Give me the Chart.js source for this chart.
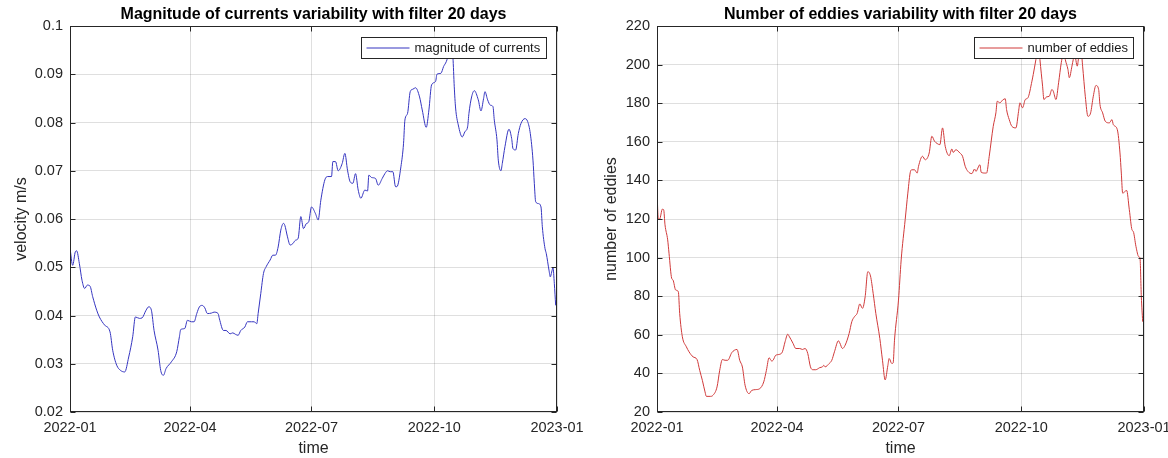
<!DOCTYPE html>
<html>
<head>
<meta charset="utf-8">
<script src="https://cdn.jsdelivr.net/npm/chart.js@4.4.1/dist/chart.umd.min.js"></script>
<style>
  html, body { margin: 0; padding: 0; background: #fff; }
  .row { display: flex; width: 1168px; height: 458px; }
  .cell { position: relative; width: 584px; height: 458px; }
</style>
</head>
<body>
<div class="row">
  <div class="cell"><canvas id="currentsChart"></canvas></div>
  <div class="cell"><canvas id="eddiesChart"></canvas></div>
</div>
<script>
// x axis: day of year counted from 2022-01-01
const tickDays = [0, 90, 181, 273, 365];
const tickLabels = ['2022-01', '2022-04', '2022-07', '2022-10', '2023-01'];

const currentDays = [0, 2, 4, 5, 7, 9, 11, 13, 15, 17, 20, 22, 26, 30, 32, 35, 38, 41, 44, 47,
  49, 52, 54, 57, 59, 61, 63, 66, 68, 70, 72, 76, 80, 82, 83, 86, 88, 91, 93, 95,
  97, 99, 101, 103, 106, 108, 111, 112, 115, 117, 120, 122, 124, 126, 128, 131, 133, 136, 138, 140,
  141, 143, 145, 147, 150, 152, 154, 156, 158, 160, 161, 163, 165, 167, 169, 171, 173, 175, 177, 179,
  181, 184, 186, 188, 191, 193, 196, 197, 199, 201, 204, 206, 208, 210, 212, 214, 216, 218, 221, 223,
  224, 226, 229, 231, 234, 236, 238, 240, 242, 244, 245, 248, 250, 251, 253, 255, 257, 259, 262, 264,
  267, 269, 271, 274, 275, 278, 280, 282, 284, 286, 287, 288, 289, 291, 294, 296, 298, 299, 301, 303,
  306, 308, 310, 311, 313, 315, 317, 318, 320, 321, 323, 324, 326, 329, 331, 332, 334, 336, 338, 341,
  343, 345, 347, 348, 349, 351, 353, 354, 356, 357, 359, 360, 361, 362, 363, 364];
const currentValues = [0.054, 0.0504, 0.0532, 0.0534, 0.0508, 0.0473, 0.0456, 0.0463, 0.0461, 0.0439, 0.0411, 0.0397, 0.038, 0.0366, 0.0328, 0.0297, 0.0286, 0.0283, 0.0314, 0.0356,
  0.0397, 0.0394, 0.0395, 0.0411, 0.0418, 0.0411, 0.0369, 0.0328, 0.0286, 0.0276, 0.029, 0.0304, 0.0325, 0.0356, 0.0371, 0.0373, 0.039, 0.0387, 0.0387, 0.0404,
  0.0418, 0.0421, 0.0416, 0.0404, 0.0405, 0.0407, 0.0404, 0.0393, 0.0369, 0.0369, 0.0362, 0.0364, 0.0361, 0.0359, 0.0369, 0.0376, 0.0387, 0.0387, 0.0387, 0.0383,
  0.0404, 0.0446, 0.0487, 0.0501, 0.0515, 0.0525, 0.0525, 0.0542, 0.0577, 0.0591, 0.0587, 0.0563, 0.0546, 0.0549, 0.0556, 0.056, 0.0605, 0.058, 0.059, 0.0595,
  0.0625, 0.0611, 0.0598, 0.0639, 0.0681, 0.0688, 0.0688, 0.0719, 0.0719, 0.07, 0.0715, 0.0736, 0.0701, 0.0677, 0.0674, 0.0694, 0.066, 0.0643, 0.066, 0.0658,
  0.0691, 0.0686, 0.0684, 0.067, 0.0684, 0.0694, 0.07, 0.0698, 0.0698, 0.0667, 0.0667, 0.0708, 0.0757, 0.0805, 0.0819, 0.0864, 0.0869, 0.0872, 0.0853, 0.0826,
  0.079, 0.0826, 0.0878, 0.0885, 0.09, 0.0902, 0.0916, 0.0926, 0.0943, 0.0958, 0.0935, 0.0874, 0.083, 0.0795, 0.077, 0.0781, 0.0791, 0.0819, 0.0853, 0.0866,
  0.0847, 0.0824, 0.085, 0.0864, 0.0847, 0.0836, 0.0833, 0.0805, 0.0764, 0.0722, 0.07, 0.0715, 0.075, 0.0786, 0.0767, 0.0746, 0.0743, 0.0777, 0.0798, 0.0808,
  0.0802, 0.0777, 0.0722, 0.0674, 0.0636, 0.0632, 0.0625, 0.0584, 0.0539, 0.0528, 0.0494, 0.048, 0.049, 0.0499, 0.0466, 0.0421];

const eddyDays = [0, 1, 2, 4, 5, 6, 8, 9, 11, 12, 14, 16, 17, 19, 22, 24, 27, 30, 32, 34,
  36, 37, 40, 42, 45, 47, 49, 51, 53, 56, 58, 60, 62, 64, 66, 69, 71, 74, 77, 80,
  82, 84, 86, 87, 89, 92, 94, 96, 98, 99, 102, 104, 107, 109, 111, 113, 115, 117, 119, 122,
  124, 125, 126, 129, 131, 133, 136, 137, 139, 141, 144, 146, 148, 150, 152, 154, 156, 158, 160, 162,
  164, 167, 169, 171, 173, 174, 176, 177, 178, 181, 183, 186, 188, 190, 191, 193, 195, 196, 199, 201,
  204, 206, 208, 210, 212, 214, 216, 219, 221, 222, 224, 227, 229, 231, 233, 236, 238, 239, 242, 243,
  246, 247, 249, 252, 254, 255, 257, 259, 261, 262, 264, 266, 269, 271, 272, 274, 276, 278, 281, 282,
  284, 286, 287, 289, 290, 292, 294, 296, 297, 299, 301, 303, 305, 306, 308, 309, 311, 312, 313, 315,
  316, 318, 319, 321, 323, 325, 327, 329, 331, 332, 334, 336, 339, 341, 342, 345, 347, 348, 349, 352,
  354, 356, 357, 359, 361, 362, 363, 364];
const eddyValues = [134.3, 120, 120, 125.1, 124.8, 117, 109.2, 102.3, 89.3, 88.4, 83.2, 82.3, 71.1, 59, 53.8, 51.2, 48.6, 47.2, 41.6, 36.4,
  30.4, 28.1, 28.1, 28.7, 33, 41.6, 47.2, 46.8, 46.8, 50.7, 52, 52.4, 46.8, 43.3, 33.9, 29.5, 31.2, 31.6, 32.1, 35.6,
  41.6, 48.1, 46.4, 46.8, 49.4, 49.9, 51.2, 56.4, 60.3, 59.3, 55.5, 52.9, 52.9, 52.4, 52.9, 50.3, 43.4, 41.9, 41.9, 43,
  43.4, 44.2, 43.4, 45.1, 46.8, 51.2, 56.9, 55.8, 52.9, 54.6, 60.7, 66.8, 69.4, 71.1, 76, 73.7, 79.7, 92.7, 90.5, 81.5,
  71.1, 58.1, 46.8, 36.6, 44, 47.7, 45.1, 45.5, 57.2, 78, 98.8, 119.6, 133.4, 144.7, 145.5, 145.5, 143.8, 147.3, 152.5, 150.7,
  154.2, 162.9, 160.3, 159.1, 158.5, 167.2, 157.7, 152.8, 156.3, 154.5, 155.9, 154.2, 152.5, 147.3, 144.7, 143.5, 145.9, 144.7, 148.1, 144.2,
  143.8, 143.8, 152.5, 168, 175, 181, 180.2, 181.6, 182.3, 176.7, 171.5, 168, 167.2, 175.8, 180.2, 177.6, 181.9, 182.8, 191.4, 194.9,
  202.7, 211, 202.7, 188.8, 181.9, 183.3, 183.6, 187.1, 186.2, 181.9, 190.6, 201, 207, 202.7, 197.5, 193.2, 199.2, 202.7, 205, 199.2,
  203.5, 206, 199.2, 183.6, 173.2, 175, 183.6, 189.2, 187.1, 179.3, 175, 170.6, 169.8, 171.5, 168.9, 166.3, 154.2, 143.8, 133.4, 134.8,
  124.8, 114.4, 113.5, 105.7, 100.5, 99.7, 79.7, 66.8];

const FONT = '"Liberation Sans", Arial, Helvetica, sans-serif';
const AXIS_COLOR = '#262626';

// matlab style: closed box, inward ticks, legend box inside the axes
const matlabAxes = {
  id: 'matlabAxes',
  afterDatasetsDraw(chart) {
    const { ctx, chartArea: a, scales: { x, y } } = chart;
    const left = Math.round(a.left) + 0.5;
    const right = Math.round(a.right) - 0.5;
    const top = Math.round(a.top) + 0.5;
    const bottom = Math.round(a.bottom) - 0.5;
    ctx.save();
    ctx.strokeStyle = AXIS_COLOR;
    ctx.lineWidth = 1;
    ctx.beginPath();
    x.ticks.forEach(t => {
      const px = Math.round(x.getPixelForValue(t.value)) + 0.5;
      ctx.moveTo(px, bottom); ctx.lineTo(px, bottom - 5);
      ctx.moveTo(px, top); ctx.lineTo(px, top + 5);
    });
    y.ticks.forEach(t => {
      const py = Math.round(y.getPixelForValue(t.value)) + 0.5;
      ctx.moveTo(left, py); ctx.lineTo(left + 5, py);
      ctx.moveTo(right, py); ctx.lineTo(right - 5, py);
    });
    ctx.stroke();
    ctx.strokeRect(left, top, right - left, bottom - top);

    const ds = chart.data.datasets[0];
    ctx.font = '13px ' + FONT;
    const tw = ctx.measureText(ds.label).width;
    const w = Math.round(5 + 43 + 5 + tw + 6);
    const h = 21;
    const bx = Math.round(a.right - 11 - w) + 0.5;
    const by = Math.round(a.top + 11) + 0.5;
    ctx.fillStyle = '#fff';
    ctx.fillRect(bx, by, w, h);
    ctx.strokeRect(bx, by, w, h);
    ctx.strokeStyle = ds.borderColor;
    ctx.beginPath();
    ctx.moveTo(bx + 5, by + h / 2);
    ctx.lineTo(bx + 48, by + h / 2);
    ctx.stroke();
    ctx.fillStyle = '#1a1a1a';
    ctx.textBaseline = 'middle';
    ctx.fillText(ds.label, bx + 53, by + h / 2 + 0.5);
    ctx.restore();
  }
};

function makeChart(id, cfg) {
  const ctx = document.getElementById(id).getContext('2d');
  return new Chart(ctx, {
    type: 'line',
    data: {
      datasets: [{
        label: cfg.label,
        data: cfg.days.map((d, i) => ({ x: d, y: cfg.values[i] })),
        borderColor: cfg.color,
        borderWidth: 1,
        pointRadius: 0,
        fill: false,
        cubicInterpolationMode: 'monotone'
      }]
    },
    options: {
      responsive: true,
      maintainAspectRatio: false,
      animation: false,
      devicePixelRatio: 1,
      layout: { padding: { left: 0, right: cfg.padRight, top: 0, bottom: 0 } },
      plugins: {
        legend: { display: false },
        tooltip: { enabled: false },
        title: {
          display: true,
          text: cfg.title,
          fullSize: false,
          color: '#000',
          font: { family: FONT, size: 16, weight: 'bold', lineHeight: 1.2 },
          padding: { top: 5, bottom: 1.8 }
        }
      },
      scales: {
        x: {
          type: 'linear',
          min: 0,
          max: 365,
          afterBuildTicks: s => { s.ticks = tickDays.map(v => ({ value: v })); },
          afterFit: s => { s.height = 46; s.paddingLeft = 0; s.paddingRight = 0; },
          ticks: {
            autoSkip: false,
            maxRotation: 0,
            padding: 7,
            color: AXIS_COLOR,
            font: { family: FONT, size: 14.5 },
            callback: v => tickLabels[tickDays.indexOf(v)]
          },
          grid: { color: 'rgba(38,38,38,0.15)', drawTicks: false },
          border: { display: false },
          title: {
            display: true,
            text: 'time',
            color: AXIS_COLOR,
            font: { family: FONT, size: 16 },
            padding: { top: 0, bottom: 0 }
          }
        },
        y: {
          min: cfg.yMin,
          max: cfg.yMax,
          afterFit: s => { s.width = cfg.yWidth; s.paddingTop = 0; s.paddingBottom = 0; },
          ticks: {
            stepSize: cfg.yStep,
            padding: 7,
            color: AXIS_COLOR,
            font: { family: FONT, size: 14.5 },
            callback: v => String(Number(v.toFixed(2)))
          },
          grid: { color: 'rgba(38,38,38,0.15)', drawTicks: false },
          border: { display: false },
          title: {
            display: true,
            text: cfg.yTitle,
            color: AXIS_COLOR,
            font: { family: FONT, size: 16 },
            padding: { top: cfg.yTitlePad, bottom: 0 }
          }
        }
      }
    },
    plugins: [matlabAxes]
  });
}

makeChart('currentsChart', {
  label: 'magnitude of currents',
  title: 'Magnitude of currents variability with filter 20 days',
  yTitle: 'velocity m/s',
  days: currentDays,
  values: currentValues,
  color: '#3535c0',
  yMin: 0.02, yMax: 0.1, yStep: 0.01,
  yWidth: 70, padRight: 27, yTitlePad: 12
});

makeChart('eddiesChart', {
  label: 'number of eddies',
  title: 'Number of eddies variability with filter 20 days',
  yTitle: 'number of eddies',
  days: eddyDays,
  values: eddyValues,
  color: '#d03a3a',
  yMin: 20, yMax: 220, yStep: 20,
  yWidth: 73, padRight: 24, yTitlePad: 18
});
</script>
</body>
</html>
